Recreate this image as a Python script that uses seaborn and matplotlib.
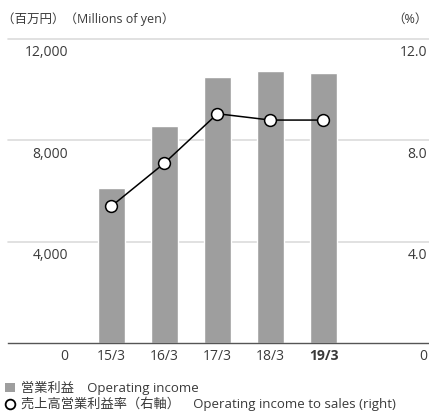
import numpy as np
import pandas as pd
import matplotlib
matplotlib.use('Agg')
import matplotlib.pyplot as plt
import matplotlib.transforms as mtransforms
from matplotlib.patches import Patch
from matplotlib.lines import Line2D
import seaborn as sns

# 数据
years = ['15/3', '16/3', '17/3', '18/3', '19/3']
operating_income = [6130, 8550, 10490, 10730, 10650]   # 百万円
income_rate = [5.4, 7.1, 9.05, 8.8, 8.8]                # %
left_ticks = [0, 4000, 8000, 12000]
left_labels = ['0', '4,000', '8,000', '12,000']
right_ticks = [0, 4.0, 8.0, 12.0]
right_labels = ['0', '4.0', '8.0', '12.0']

sns.set_theme(style='white')
plt.rcParams['font.family'] = ['Open Sans', 'Noto Sans CJK JP', 'DejaVu Sans']
plt.rcParams['axes.unicode_minus'] = False

text_color = '#3a3a3a'
bar_color = '#9e9e9e'

fig = plt.figure(figsize=(4.29, 4.13), dpi=100)
ax = fig.add_axes([8 / 429, 70 / 413, 421 / 429, 304 / 413])

df = pd.DataFrame({'year': years, 'income': operating_income})
sns.barplot(data=df, x='year', y='income', color=bar_color, width=0.51,
            saturation=1, ax=ax, zorder=2)
ax.set_xlim(-1.95, 5.99)
ax.set_ylim(0, 12000)
ax.set_xlabel('')
ax.set_ylabel('')
ax.set_yticks([])
for v in left_ticks[1:]:
    ax.axhline(v, color='#dcdcdc', lw=1.2, zorder=0, clip_on=False)
for s in ['top', 'left', 'right']:
    ax.spines[s].set_visible(False)
ax.spines['bottom'].set_color('#555555')
ax.spines['bottom'].set_linewidth(1.0)

ax.set_xticks(range(len(years)))
ax.set_xticklabels(years, fontsize=10, color=text_color)
ax.tick_params(axis='x', length=0, pad=4)
ax.get_xticklabels()[-1].set_fontweight('bold')

# 左右轴标签（画在网格线下方）
below = mtransforms.offset_copy(ax.get_yaxis_transform(), fig=fig, x=0, y=-10, units='points')
for v, lab in zip(left_ticks, left_labels):
    ax.text(0.142, v, lab, transform=below, ha='right', va='center', fontsize=10, color=text_color)

ax2 = ax.twinx()
ax2.set_ylim(0, 12)
ax2.set_yticks([])
for s in ['top', 'left', 'right', 'bottom']:
    ax2.spines[s].set_visible(False)
sns.lineplot(x=np.arange(len(years)), y=income_rate, color='black', lw=1.1,
             marker='o', markersize=8.5, markerfacecolor='white',
             markeredgecolor='black', markeredgewidth=1.1, ax=ax2, zorder=3)
below2 = mtransforms.offset_copy(ax2.get_yaxis_transform(), fig=fig, x=0, y=-10, units='points')
for v, lab in zip(right_ticks, right_labels):
    ax2.text(0.995, v, lab, transform=below2, ha='right', va='center', fontsize=10, color=text_color)

# 单位
fig.text(2 / 429, 1 - 19 / 413, '（百万円）（Millions of yen）', ha='left', va='center',
         fontsize=9, color=text_color)
fig.text(428 / 429, 1 - 19 / 413, '（%）', ha='right', va='center', fontsize=9, color=text_color)

# 图例
handles = [Patch(facecolor=bar_color, edgecolor='none'),
           Line2D([], [], ls='none', marker='o', markersize=7, markerfacecolor='white',
                  markeredgecolor='black', markeredgewidth=1.3)]
labels = ['営業利益　Operating income', '売上高営業利益率（右軸）　Operating income to sales (right)']
fig.legend(handles, labels, loc='center left', bbox_to_anchor=(4 / 429, 1 - 396 / 413),
           frameon=False, fontsize=9.5, handlelength=0.7, handleheight=0.7,
           handletextpad=0.5, labelspacing=0.15, borderaxespad=0, borderpad=0.1,
           labelcolor=text_color)

fig.savefig('out.png', dpi=100)
